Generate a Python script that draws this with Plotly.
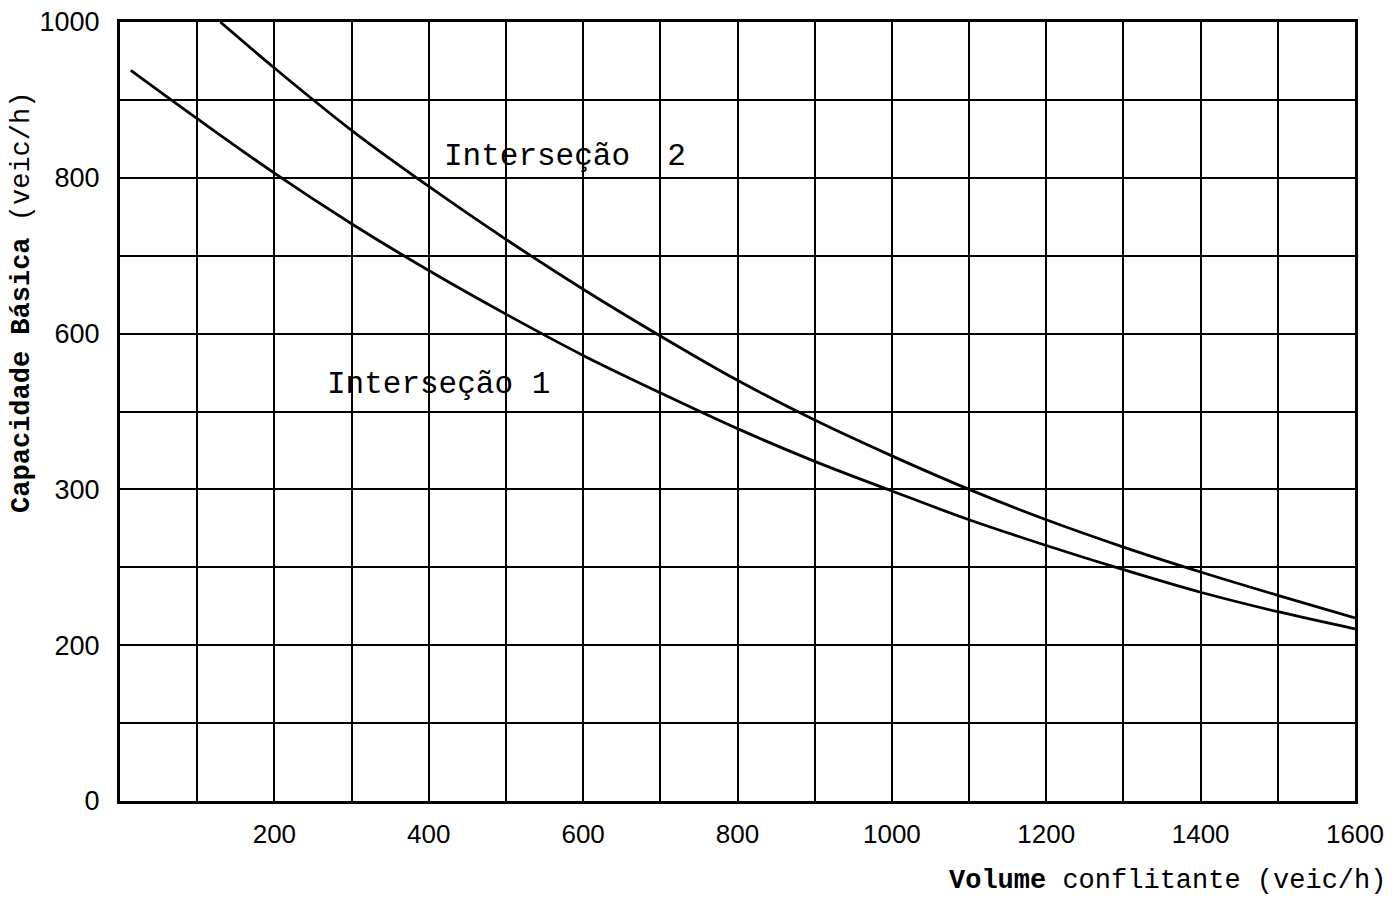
import plotly.graph_objects as go

# Interseção 1 (lower curve)
x_int1 = [14, 100, 200, 300, 400, 500, 600, 700, 800, 900, 1000, 1100, 1200, 1300, 1400, 1500, 1600]
y_int1 = [938, 876, 806, 741, 681, 625, 572, 524, 478, 436, 398, 361, 328, 297, 268, 243, 221]

# Interseção 2 (upper curve)
x_int2 = [130, 200, 300, 400, 500, 600, 700, 800, 900, 1000, 1100, 1200, 1300, 1400, 1500, 1600]
y_int2 = [1000, 941, 861, 789, 721, 657, 597, 540, 489, 443, 400, 361, 326, 294, 264, 235]

x_tick_vals = [200, 400, 600, 800, 1000, 1200, 1400, 1600]
x_tick_text = ["200", "400", "600", "800", "1000", "1200", "1400", "1600"]
y_tick_vals = [0, 200, 400, 600, 800, 1000]
y_tick_text = ["0", "200", "300", "600", "800", "1000"]

MONO = "Liberation Mono, Courier New, monospace"
SANS = "Liberation Sans, Arial, sans-serif"

fig = go.Figure()
fig.add_trace(go.Scatter(x=x_int1, y=y_int1, mode="lines", line=dict(color="black", width=2.8, shape="spline"),
                         name="Interseção 1", showlegend=False))
fig.add_trace(go.Scatter(x=x_int2, y=y_int2, mode="lines", line=dict(color="black", width=2.8, shape="spline"),
                         name="Interseção 2", showlegend=False))

fig.add_annotation(x=576, y=827, xref="x", yref="y", text="Interseção  2", showarrow=False,
                   font=dict(family=MONO, size=31, color="black"), xanchor="center", yanchor="middle")
fig.add_annotation(x=413, y=535, xref="x", yref="y", text="Interseção 1", showarrow=False,
                   font=dict(family=MONO, size=31, color="black"), xanchor="center", yanchor="middle")

fig.add_annotation(x=-0.079, y=0.64, xref="paper", yref="paper", textangle=-90, showarrow=False,
                   text="<b>Capacidade Básica</b> (veic/h)",
                   font=dict(family=MONO, size=27, color="black"), xanchor="center", yanchor="middle")
fig.add_annotation(x=0.848, y=-0.103, xref="paper", yref="paper", showarrow=False,
                   text="<b>Volume</b> conflitante (veic/h)",
                   font=dict(family=MONO, size=27, color="black"), xanchor="center", yanchor="middle")

fig.update_layout(
    width=1379, height=888,
    margin=dict(l=112, r=32, t=14, b=95, autoexpand=False),
    paper_bgcolor="white", plot_bgcolor="white",
    font=dict(family=SANS, color="black"),
)
fig.update_xaxes(range=[0, 1600], tickvals=x_tick_vals, ticktext=x_tick_text, automargin=False,
                 ticklabeloverflow="allow",
                 tickfont=dict(family=SANS, size=26, color="black"),
                 showgrid=True, gridcolor="black", gridwidth=2.2,
                 minor=dict(dtick=100, tick0=0, showgrid=True, gridcolor="black", gridwidth=2.2),
                 showline=True, linecolor="black", linewidth=3, mirror=True,
                 ticks="outside", ticklen=8, tickcolor="rgba(0,0,0,0)", zeroline=False)
fig.update_yaxes(range=[0, 1000], tickvals=y_tick_vals, ticktext=y_tick_text, automargin=False,
                 ticklabeloverflow="allow",
                 tickfont=dict(family=SANS, size=27, color="black"),
                 showgrid=True, gridcolor="black", gridwidth=2.2,
                 minor=dict(dtick=100, tick0=0, showgrid=True, gridcolor="black", gridwidth=2.2),
                 showline=True, linecolor="black", linewidth=3, mirror=True,
                 ticks="outside", ticklen=12, tickcolor="rgba(0,0,0,0)", zeroline=False)

fig.write_html("out.html")
